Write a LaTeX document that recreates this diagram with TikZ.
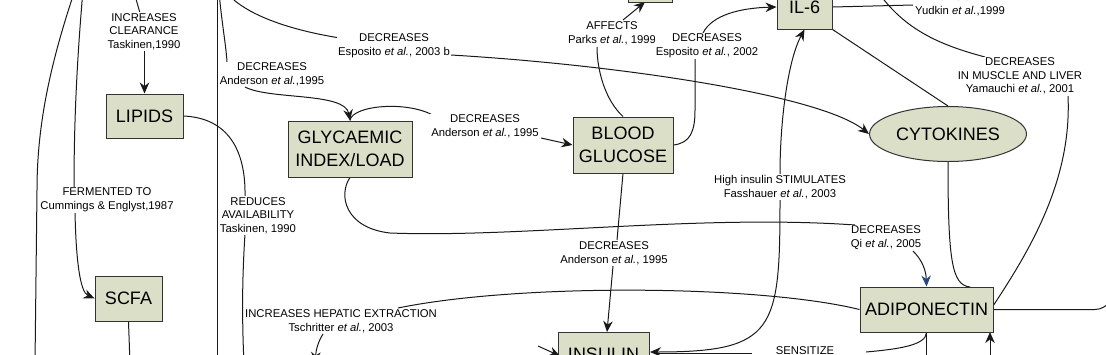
\documentclass[tikz,border=0pt]{standalone}
\usepackage{fontspec}
\setmainfont{Liberation Sans}
\usetikzlibrary{arrows.meta,shapes.geometric,backgrounds}
\definecolor{boxfill}{RGB}{220,223,200}
\definecolor{tipblue}{RGB}{40,70,130}
\begin{document}
\begin{tikzpicture}[x=1pt,y=-1pt,
 box/.style={draw=black!80, fill=boxfill, line width=1pt, font=\fontsize{18}{23}\selectfont, align=center, inner sep=0pt},
 lab/.style={font=\fontsize{11.3}{13.6}\selectfont, align=center, fill=white, inner sep=1pt},
 conn/.style={line width=1pt, draw=black!90},
 arr/.style={conn, -{Stealth[length=11pt,width=9.5pt]}}]
\useasboundingbox (0,0) rectangle (1106,354);
% boxes
\node[box, minimum width=77pt, minimum height=44pt] (lip) at (144.5,116) {LIPIDS};
\node[box, minimum width=67pt, minimum height=45pt] (scfa) at (128.5,298.5) {SCFA};
\node[box, minimum width=124pt, minimum height=56pt] (gly) at (350,149) {GLYCAEMIC\\INDEX/LOAD};
\node[box, minimum width=100pt, minimum height=56pt] (bg) at (623,145) {BLOOD\\GLUCOSE};
\node[box, minimum width=55pt, minimum height=44pt] (il6) at (804.5,7) {IL-6};
\node[box, minimum width=44pt, minimum height=44pt] (topbox) at (650,-20) {};
\node[box, ellipse, minimum width=157pt, minimum height=55pt] (cyt) at (948,134) {CYTOKINES};
\node[box, minimum width=133pt, minimum height=45pt] (adi) at (926.5,309.5) {ADIPONECTIN};
\node[box, minimum width=91pt, minimum height=44pt] (ins) at (603.5,354) {INSULIN};
% labels
\node[lab] (l1) at (144,31.5) {INCREASES\\CLEARANCE\\Taskinen,1990};
\node[lab] (l2) at (107,200) {FERMENTED TO\\Cummings \& Englyst,1987};
\node[lab] (l3) at (272,74) {DECREASES\\Anderson \textit{et al.},1995};
\node[lab] (l4) at (394,46) {DECREASES\\Esposito \textit{et al.}, 2003 b};
\node[lab] (l5) at (485,126) {DECREASES\\Anderson \textit{et al.}, 1995};
\node[lab] (l6) at (258,215.5) {REDUCES\\AVAILABILITY\\Taskinen, 1990};
\node[lab] (l7) at (612,33) {AFFECTS\\Parks \textit{et al.}, 1999};
\node[lab] (l8) at (707,46) {DECREASES\\Esposito \textit{et al.}, 2002};
\node[lab] (l9) at (780,187) {High insulin STIMULATES\\Fasshauer \textit{et al.}, 2003};
\node[lab] (l10) at (614,253) {DECREASES\\Anderson \textit{et al.}, 1995};
\node[lab] (l11) at (886,237.5) {DECREASES\\Qi \textit{et al.}, 2005};
\node[lab] (l12) at (341,321) {INCREASES HEPATIC EXTRACTION\\Tschritter \textit{et al.}, 2003};
\node[lab] (l13) at (1020,76) {DECREASES\\IN MUSCLE AND LIVER\\Yamauchi \textit{et al.}, 2001};
\node[lab] (l14) at (960,4) {PRODUCTION\\Yudkin \textit{et al.},1999};
\node[lab] (l15) at (805,351) {SENSITIZE};
% connectors
\begin{scope}[on background layer]
\draw[conn] (75,-10) .. controls (48,70) and (37,130) .. (37,190) -- (35,364);
\draw[conn] (83,-10) .. controls (77,60) and (74,120) .. (74,188);
\draw[arr] (75,212) .. controls (76,260) and (80,292) .. (scfa.west);
\draw[conn] (134,-8) -- (140,13);
\draw[arr] (l1.south -| lip.north) -- (lip.north);
\draw[conn] (lip.east) .. controls (228,118) and (246,150) .. (245,197);
\draw[conn] (245,234) .. controls (242,280) and (242,320) .. (244,364);
\draw[conn] (217,-10) -- (217,364);
\draw[conn] (219,-8) .. controls (222,25) and (226,45) .. (227,62);
\draw[arr] (245,87) .. controls (270,100) and (345,92) .. (gly.north);
\draw[conn] (gly.north) .. controls (352,105) and (410,100) .. (436,117);
\draw[arr] (541,138) -- (bg.west);
\draw[conn] (226,-8) .. controls (245,15) and (290,30) .. (340,38);
\draw[arr] (451,55) .. controls (620,65) and (820,95) .. (cyt.west);
\draw[conn] (bg.north) .. controls (605,100) and (597,70) .. (597,47);
\draw[arr] (623,20) -- (645,2);
\draw[conn] (bg.east) .. controls (690,143) and (695,132) .. (695,110) -- (695,59);
\draw[arr] (703,33) .. controls (712,15) and (740,8) .. (il6.west);
\draw[arr] (780,174) .. controls (780,120) and (788,60) .. (il6.south);
\draw[arr] (780,200) .. controls (780,330) and (775,352) .. (650,352);
\draw[conn] (654,353) -- (752,353);
\draw[conn] (bg.south) -- (617,240);
\draw[arr] (613,266) -- (607,332);
\draw[conn] (gly.south) .. controls (338,195) and (345,228) .. (390,233) .. controls (520,238) and (700,214) .. (855,225);
\draw[conn, -{Stealth[length=11pt,width=9.5pt,color=tipblue]}] (913,251) .. controls (922,260) and (926,270) .. (adi.north);
\draw[conn] (cyt.south) .. controls (948,262) and (952,285) .. (970,287);
\draw[conn] (993,306) .. controls (1030,250) and (1072,180) .. (1068,96);
\draw[conn] (985,57) .. controls (940,45) and (905,30) .. (878,-8);
\draw[conn] (il6.east) -- (913,5);
\draw[conn] (il6.south east) -- (cyt.north);
\draw[conn] (adi.east) -- (1095,309.5) .. controls (1102,309.5) and (1106,306) .. (1115,298);
\draw[conn] (adi.west) .. controls (760,285) and (520,283) .. (398,308);
\draw[arr] (323,334) .. controls (318,342) and (316,350) .. (315,363);
\draw[arr] (538,346) -- (560,356);
\draw[conn] (scfa.south) -- (130,364);
\draw[conn] (adi.south) .. controls (926,345) and (900,349) .. (866,352);
\draw[conn] (adi.south) -- (926.5,364);
\draw[arr] (990,364) -- (990,332);
\end{scope}
\end{tikzpicture}
\end{document}
